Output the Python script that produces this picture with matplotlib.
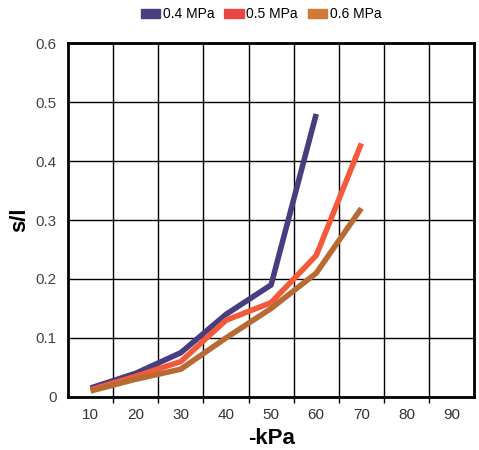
import matplotlib.pyplot as plt
from matplotlib.patches import Patch

plt.rcParams['font.family'] = ['Liberation Sans', 'DejaVu Sans']

# Data
kpa = [10, 20, 30, 40, 50, 60, 70, 80, 90]
mpa04 = [0.015, 0.04, 0.075, 0.14, 0.19, 0.48]
mpa05 = [0.012, 0.035, 0.06, 0.13, 0.16, 0.24, 0.43]
mpa06 = [0.01, 0.03, 0.047, 0.10, 0.15, 0.21, 0.32]
labels = ['0.4 MPa', '0.5 MPa', '0.6 MPa']
line_colors = ['#483d80', '#f25a3a', '#b86a35']
legend_colors = ['#4a4080', '#e84545', '#d07a3a']

fig = plt.figure(figsize=(4.79, 4.5), dpi=100)
ax = fig.add_axes([0.142, 0.118, 0.848, 0.786])

for ys, c in zip([mpa04, mpa05, mpa06], line_colors):
    ax.plot(kpa[:len(ys)], ys, color=c, lw=4, solid_capstyle='butt', zorder=3)

ax.set_xlim(5, 95)
ax.set_ylim(0, 0.6)
ax.set_xticks(kpa)
ax.set_xticklabels([str(k) for k in kpa])
ax.set_xticks([k + 5 for k in kpa[:-1]], minor=True)
ax.set_yticks([0, 0.1, 0.2, 0.3, 0.4, 0.5, 0.6])
ax.set_yticklabels(['0', '0.1', '0.2', '0.3', '0.4', '0.5', '0.6'])
ax.tick_params(axis='x', which='major', length=0, pad=8, labelsize=11, labelcolor='#333333')
ax.tick_params(axis='x', which='minor', length=4, width=1, direction='out')
ax.tick_params(axis='y', length=0, pad=8, labelsize=11, labelcolor='#444444')
ax.grid(True, which='minor', axis='x', color='black', lw=1)
ax.grid(True, which='major', axis='y', color='black', lw=1)
for s in ax.spines.values():
    s.set_linewidth(2)

ax.set_xlabel('-kPa', fontsize=16, fontweight='bold', labelpad=4)
ax.set_ylabel('s/l', fontsize=16, fontweight='bold', labelpad=4)

handles = [Patch(color=c, label=l) for c, l in zip(legend_colors, labels)]
fig.legend(handles=handles, loc='center', bbox_to_anchor=(0.545, 0.968), ncol=3,
           frameon=False, fontsize=10, handlelength=1.4, handleheight=0.7,
           handletextpad=0.2, columnspacing=0.7)

plt.savefig('out.png', dpi=100)
